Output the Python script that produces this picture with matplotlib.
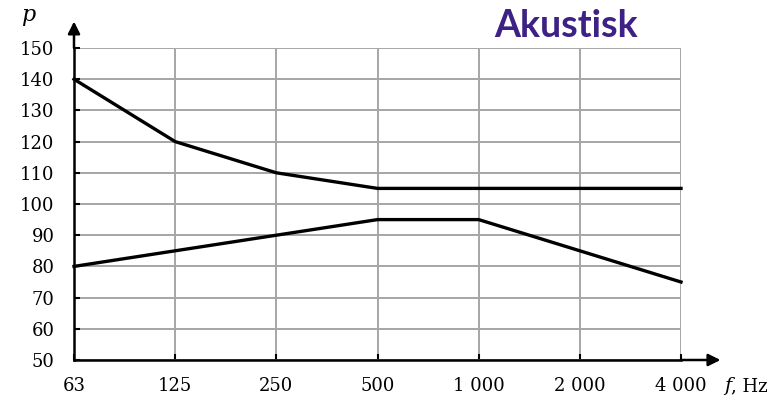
import matplotlib

matplotlib.use("Agg")
import matplotlib.pyplot as plt

freqs = ["63", "125", "250", "500", "1 000", "2 000", "4 000"]
upper = [140, 120, 110, 105, 105, 105, 105]
lower = [80, 85, 90, 95, 95, 85, 75]
yticks = list(range(50, 151, 10))

plt.rcParams["font.family"] = ["DejaVu Serif"]

fig = plt.figure(figsize=(7.78, 4.0), dpi=100)
ax = fig.add_axes([74 / 778, 40 / 400, 607 / 778, 312 / 400])

x = list(range(len(freqs)))
ax.set_xlim(0, len(freqs) - 1)
ax.set_ylim(50, 150)
ax.set_xticks(x)
ax.set_xticklabels(freqs, fontsize=13)
ax.set_yticks(yticks)
ax.set_yticklabels([str(v) for v in yticks], fontsize=13)
ax.tick_params(direction="in", length=4, width=1.5, colors="black", pad=12)
ax.tick_params(axis="y", pad=14)

ax.grid(color="#a6a6a6", linewidth=1.4)
ax.set_axisbelow(True)
for s in ["top", "right"]:
    ax.spines[s].set_visible(False)
for s in ["left", "bottom"]:
    ax.spines[s].set_linewidth(1.8)

ax.plot(x, upper, color="black", linewidth=2.4, clip_on=False, zorder=3)
ax.plot(x, lower, color="black", linewidth=2.4, clip_on=False, zorder=3)

# axis arrows
ax.annotate("", xy=(1.065, 0), xytext=(1.0, 0), xycoords="axes fraction",
            arrowprops=dict(arrowstyle="-|>", color="black", lw=1.8,
                            mutation_scale=18, shrinkA=0, shrinkB=0))
ax.annotate("", xy=(0, 1.085), xytext=(0, 1.0), xycoords="axes fraction",
            arrowprops=dict(arrowstyle="-|>", color="black", lw=1.8,
                            mutation_scale=18, shrinkA=0, shrinkB=0))

fig.text(28 / 778, 1 - 15 / 400, "p", fontsize=16, style="italic",
         ha="center", va="center")
fig.text(724 / 778, 1 - 386 / 400, "f", fontsize=14, style="italic",
         ha="left", va="center")
fig.text(731 / 778, 1 - 386 / 400, ", Hz", fontsize=13,
         ha="left", va="center")
fig.text(566 / 778, 1 - 26 / 400, "Akustisk", fontsize=27, fontweight="bold",
         family=["Lato", "DejaVu Sans"], color="#3d2184",
         ha="center", va="center")

fig.savefig("out.png", dpi=100)
